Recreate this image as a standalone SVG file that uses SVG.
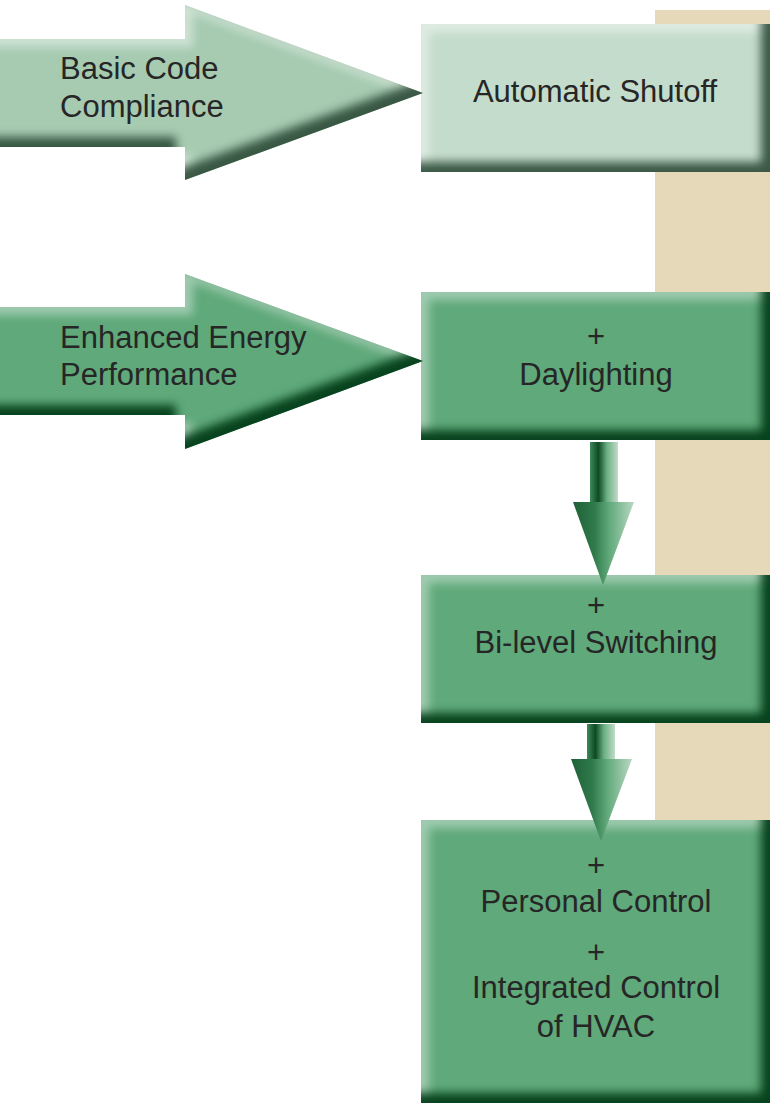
<svg xmlns="http://www.w3.org/2000/svg" width="770" height="1103" viewBox="0 0 770 1103">
  <style>
    .t { font-family: "Liberation Sans", Arial, sans-serif; font-size: 31px; fill: #262626; }
    .c { text-anchor: middle; }
    .light { fill: #c4dccb; }
    .lightarrow { fill: #a6cbb1; }
    .green { fill: #5fa97a; }
  </style>
  <defs>
    <filter id="bevelLight" x="-10%" y="-10%" width="120%" height="120%" color-interpolation-filters="sRGB">
      <feGaussianBlur in="SourceAlpha" stdDeviation="5" result="b"/>
      <feOffset in="b" dx="-9" dy="-10" result="ob"/>
      <feComposite in="SourceAlpha" in2="ob" operator="out" result="dk"/>
      <feFlood flood-color="#2c4a37" flood-opacity="0.9"/>
      <feComposite in2="dk" operator="in" result="dark"/>
      <feOffset in="b" dx="8" dy="8" result="ol"/>
      <feComposite in="SourceAlpha" in2="ol" operator="out" result="lt"/>
      <feFlood flood-color="#ffffff" flood-opacity="0.45"/>
      <feComposite in2="lt" operator="in" result="light"/>
      <feMerge>
        <feMergeNode in="SourceGraphic"/>
        <feMergeNode in="light"/>
        <feMergeNode in="dark"/>
      </feMerge>
    </filter>
    <filter id="bevelGreen" x="-10%" y="-10%" width="120%" height="120%" color-interpolation-filters="sRGB">
      <feGaussianBlur in="SourceAlpha" stdDeviation="5" result="b"/>
      <feOffset in="b" dx="-9" dy="-10" result="ob"/>
      <feComposite in="SourceAlpha" in2="ob" operator="out" result="dk"/>
      <feFlood flood-color="#023d18" flood-opacity="0.95"/>
      <feComposite in2="dk" operator="in" result="dark"/>
      <feOffset in="b" dx="8" dy="8" result="ol"/>
      <feComposite in="SourceAlpha" in2="ol" operator="out" result="lt"/>
      <feFlood flood-color="#ffffff" flood-opacity="0.4"/>
      <feComposite in2="lt" operator="in" result="light"/>
      <feMerge>
        <feMergeNode in="SourceGraphic"/>
        <feMergeNode in="light"/>
        <feMergeNode in="dark"/>
      </feMerge>
    </filter>
    <linearGradient id="shaftGrad" x1="0" y1="0" x2="1" y2="0">
      <stop offset="0" stop-color="#3d8a5a"/>
      <stop offset="0.3" stop-color="#0d4a24"/>
      <stop offset="0.6" stop-color="#6aae82"/>
      <stop offset="1" stop-color="#c2ddc8"/>
    </linearGradient>
    <linearGradient id="headGrad" x1="0" y1="0" x2="1" y2="0">
      <stop offset="0" stop-color="#1f6138"/>
      <stop offset="0.35" stop-color="#2f7a4b"/>
      <stop offset="0.6" stop-color="#62aa7c"/>
      <stop offset="1" stop-color="#b9d8c1"/>
    </linearGradient>
  </defs>

  <rect id="band" x="655" y="10" width="115" height="812" fill="#e5d9b9"/>

  <g id="box-automatic-shutoff">
    <rect class="light" x="421" y="24" width="349" height="148" filter="url(#bevelLight)"/>
    <text class="t c" x="595" y="102">Automatic Shutoff</text>
  </g>

  <g id="box-daylighting">
    <rect class="green" x="421" y="292" width="349" height="148" filter="url(#bevelGreen)"/>
    <text class="t c" x="596" y="347">+</text>
    <text class="t c" x="596" y="385">Daylighting</text>
  </g>

  <g id="box-bilevel">
    <rect class="green" x="421" y="575" width="349" height="148" filter="url(#bevelGreen)"/>
    <text class="t c" x="596" y="616">+</text>
    <text class="t c" x="596" y="653">Bi-level Switching</text>
  </g>

  <g id="box-personal">
    <rect class="green" x="421" y="820" width="349" height="283" filter="url(#bevelGreen)"/>
    <text class="t c" x="596" y="876">+</text>
    <text class="t c" x="596" y="912">Personal Control</text>
    <text class="t c" x="596" y="963">+</text>
    <text class="t c" x="596" y="998">Integrated Control</text>
    <text class="t c" x="596" y="1037">of HVAC</text>
  </g>

  <g id="connectors">
    <g id="arrow-basic">
      <polygon class="lightarrow" points="-40,39 185,39 185,5 423,93 185,180 185,147 -40,147" filter="url(#bevelLight)"/>
      <text class="t" x="60" y="79">Basic Code</text>
      <text class="t" x="60" y="117">Compliance</text>
    </g>
    <g id="arrow-enhanced">
      <polygon class="green" points="-40,307 185,307 185,274 423,361 185,449 185,415 -40,415" filter="url(#bevelGreen)"/>
      <text class="t" x="60" y="348">Enhanced Energy</text>
      <text class="t" x="60" y="385">Performance</text>
    </g>
    <g id="arrow-down-1">
      <rect x="590" y="442" width="28" height="61" fill="url(#shaftGrad)"/>
      <polygon points="573,502 634,502 603,585" fill="url(#headGrad)"/>
    </g>
    <g id="arrow-down-2">
      <rect x="587" y="724" width="28" height="36" fill="url(#shaftGrad)"/>
      <polygon points="571,759 632,759 601,841" fill="url(#headGrad)"/>
    </g>
  </g>
</svg>
